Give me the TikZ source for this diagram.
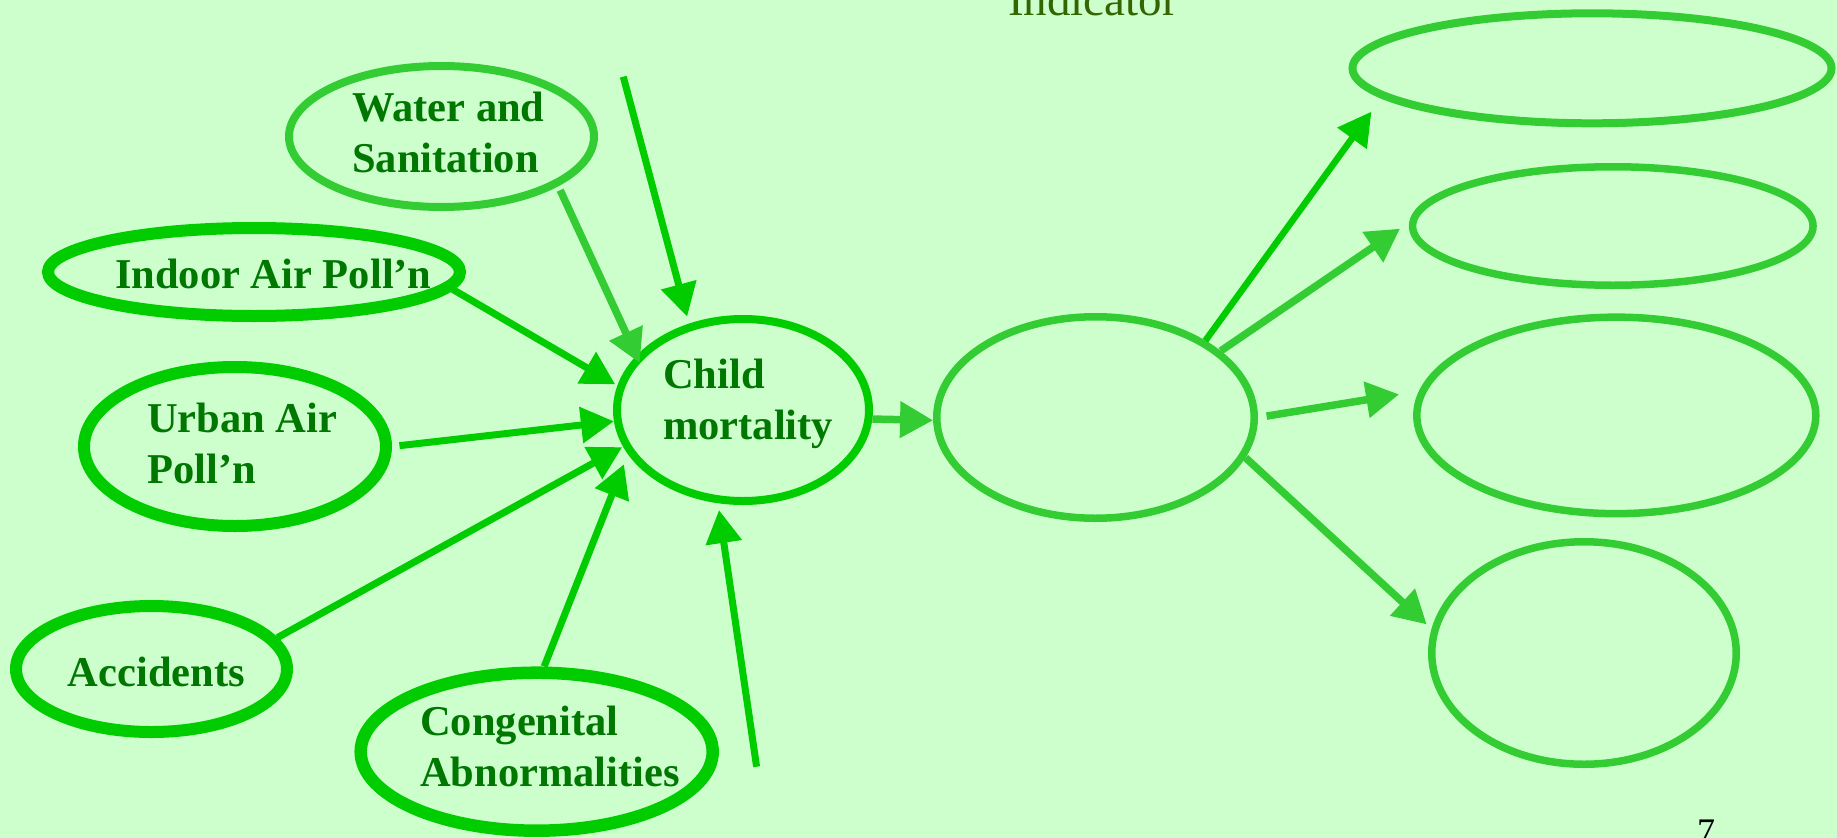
\documentclass[tikz,border=0pt]{standalone}
\usepackage{fontspec}
\setmainfont{Liberation Serif}
\usetikzlibrary{arrows.meta,shapes.geometric}
\definecolor{bg}{HTML}{CCFFCC}
\definecolor{bright}{HTML}{00CC00}
\definecolor{light}{HTML}{33CC33}
\definecolor{txt}{HTML}{007700}
\definecolor{ind}{HTML}{336600}
\begin{document}
\begin{tikzpicture}[x=1pt,y=-1pt,
  el/.style={ellipse, draw, inner sep=0pt},
  thick el/.style={el, draw=bright, line width=12pt},
  lbl/.style={inner sep=0pt, anchor=base west, text=txt, font=\fontsize{42.5}{51}\selectfont\bfseries},
  arr/.style={-{Triangle[length=33pt,width=35pt]}},
  barr/.style={arr, draw=bright, fill=bright, line width=7pt},
  larr/.style={arr, draw=light, fill=light, line width=7.5pt}]
\useasboundingbox (0,0) rectangle (1837,838);
\fill[bg] (0,0) rectangle (1837,838);
% ellipses
\node[el, draw=light, line width=8pt, minimum width=305pt, minimum height=141pt] (water) at (441.5,136.5) {};
\node[thick el, minimum width=412pt, minimum height=88pt] (indoor) at (254,272) {};
\node[thick el, minimum width=302pt, minimum height=159pt] (urban) at (235,446.5) {};
\node[el, draw=bright, line width=8pt, minimum width=252pt, minimum height=182pt] (child) at (743,410) {};
\node[thick el, minimum width=271pt, minimum height=126pt] (acc) at (151.5,669) {};
\node[thick el, line width=12.5pt, minimum width=352pt, minimum height=158pt] (cong) at (536.7,751.7) {};
\node[el, draw=light, line width=7.5pt, minimum width=317.5pt, minimum height=201.5pt] (mid) at (1095.5,417.5) {};
\node[el, draw=light, line width=8pt, minimum width=479pt, minimum height=110pt] (o1) at (1592,68.3) {};
\node[el, draw=light, line width=7.5pt, minimum width=400.5pt, minimum height=118.5pt] (o2) at (1612.8,226) {};
\node[el, draw=light, line width=7.5pt, minimum width=399pt, minimum height=196.5pt] (o3) at (1616.3,415.4) {};
\node[el, draw=light, line width=7.5pt, minimum width=304.5pt, minimum height=222.5pt] (o4) at (1584,653) {};
% labels
\node[lbl] (twater) at (352,121.7) {\begin{tabular}[t]{@{}l@{}}Water and\\Sanitation\end{tabular}};
\node[lbl] (tindoor) at (115,288) {Indoor Air Poll’n};
\node[lbl] (turban) at (147,432) {\begin{tabular}[t]{@{}l@{}}Urban Air\\Poll’n\end{tabular}};
\node[lbl] (tchild) at (663,388) {\begin{tabular}[t]{@{}l@{}}Child\\mortality\end{tabular}};
\node[lbl] (tacc) at (67.7,686.7) {Accidents};
\node[lbl] (tcong) at (420,735) {\begin{tabular}[t]{@{}l@{}}Congenital\\Abnormalities\end{tabular}};
\node[anchor=base west, inner sep=0pt, text=ind, font=\fontsize{47}{56}\selectfont] (indicator) at (1008,15) {Indicator};
\node[anchor=base west, inner sep=0pt, font=\fontsize{36}{43}\selectfont] (pagenum) at (1697,843) {7};
% free ends
\coordinate (topstart) at (623.3,76.7);
\coordinate (botstart) at (756.6,766.7);
% arrows into child mortality
\draw[barr, shorten >=7.2pt] (topstart) -- (child.122.3);
\draw[larr, shorten <=4.5pt, shorten >=-8pt] (water.-23) -- (child.153.3);
\draw[barr, shorten >=2.5pt] (indoor.-5.1) -- (child.169.3);
\draw[barr, shorten <=7.5pt] (urban.0.2) -- (child.-175.6);
\draw[barr, shorten >=1pt] (acc.14.3) -- (child.-163.3);
\draw[barr, shorten >=10.8pt] (cong.85.1) -- (child.-159.5);
\draw[barr, shorten >=6.9pt] (botstart) -- (child.-105.2);
% child to middle
\draw[larr] (child.-4) -- (mid.-179.5);
% middle to outcomes
\draw[barr, line width=6.5pt, shorten >=17pt] (mid.35.3) -- (o1.-172.6);
\draw[larr, shorten >=11pt] (mid.28) -- (o2.179.4);
\draw[larr, shorten <=8.7pt, shorten >=20pt] (mid.-0.8) -- (o3.173.9);
\draw[larr, shorten >=6.5pt] (mid.-15.3) -- (o4.171.2);
\end{tikzpicture}
\end{document}
